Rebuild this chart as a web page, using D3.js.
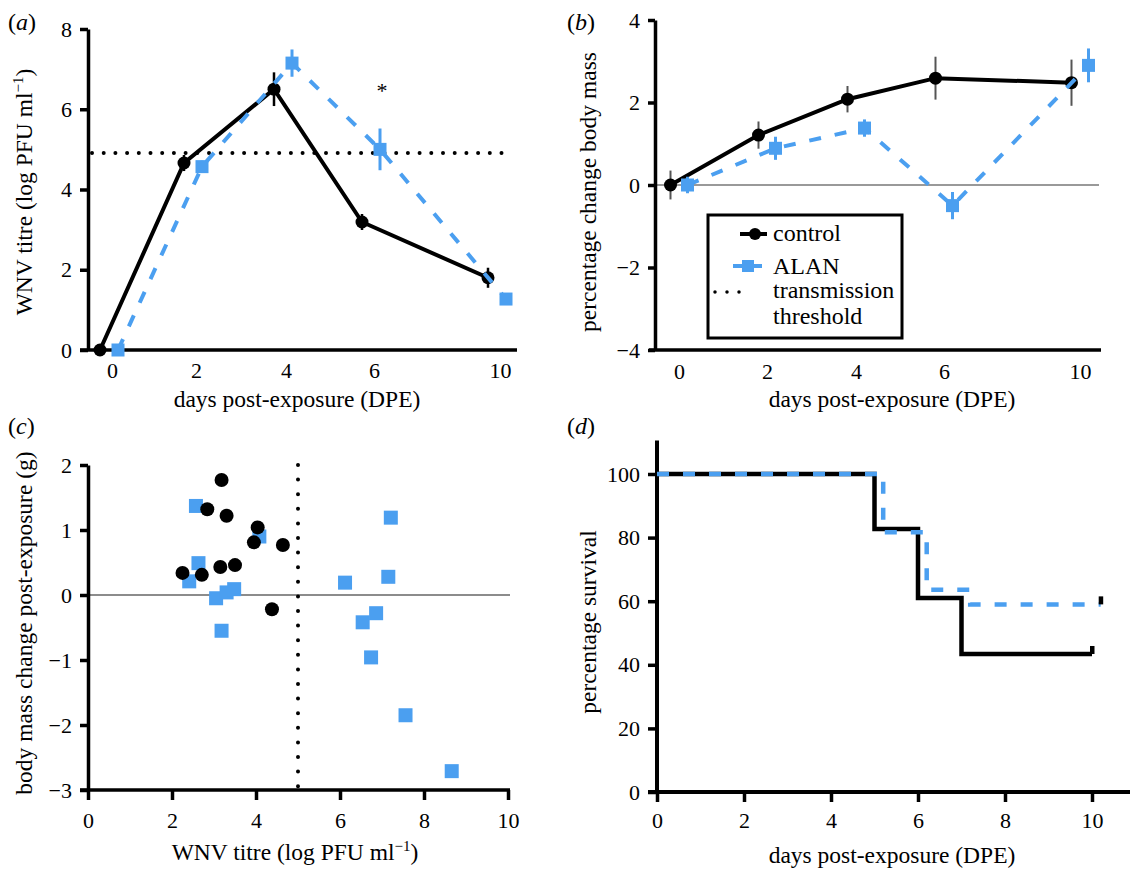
<!DOCTYPE html>
<html>
<head>
<meta charset="utf-8">
<script src="https://cdn.jsdelivr.net/npm/d3@7"></script>
<style>
  html, body { margin: 0; padding: 0; background: #fff; }
  svg { display: block; }
</style>
</head>
<body>
<svg id="chart" width="1130" height="870"></svg>
<script>
// ---------------- DATA ----------------
const days = [0, 2, 4, 6, 10];
const dayLabels = ["0", "2", "4", "6", "10"];

// (a) WNV titre
const titreControl   = [0, 4.66, 6.50, 3.19, 1.80];
const titreControlSE = [0, 0.20, 0.42, 0.20, 0.25];
const titreALAN      = [0, 4.57, 7.15, 5.00, 1.27];
const titreALANSE    = [0, 0.15, 0.34, 0.52, 0.08];
const transmissionThreshold = 4.91;
const titreTicks = [0, 2, 4, 6, 8];

// (b) percentage change body mass
const massPctControl   = [0, 1.21, 2.08, 2.59, 2.48];
const massPctControlSE = [0.35, 0.33, 0.32, 0.52, 0.56];
const massPctALAN      = [0, 0.89, 1.38, -0.50, 2.90];
const massPctALANSE    = [0.20, 0.28, 0.21, 0.33, 0.41];
const massPctTicks = [-4, -2, 0, 2, 4];

// (c) body mass change vs titre
const scatterControlTitre = [3.18, 2.84, 3.30, 4.04, 3.95, 4.64, 2.25, 2.71, 3.15, 3.50, 4.38];
const scatterControlMass  = [1.77, 1.32, 1.22, 1.04, 0.81, 0.77, 0.34, 0.31, 0.43, 0.46, -0.22];
const scatterALANTitre = [2.57, 2.63, 2.41, 3.05, 3.30, 3.48, 3.18, 4.08, 6.12, 7.21, 7.15, 6.54, 6.86, 6.74, 7.56, 8.66];
const scatterALANMass  = [1.37, 0.49, 0.21, -0.05, 0.04, 0.09, -0.55, 0.90, 0.19, 1.19, 0.28, -0.42, -0.28, -0.96, -1.85, -2.71];
const massGTicks = [-3, -2, -1, 0, 1, 2];
const titreXTicks = [0, 2, 4, 6, 8, 10];

// (d) survival
const survTimeControl = [0, 5, 6, 7, 10];
const survControl     = [100, 82.7, 61, 43.4, 43.4];
const survTimeALAN    = [0, 5.2, 6.2, 7.2, 10.2];
const survALAN        = [100, 81.7, 63.6, 59, 59];
const survTicks = [0, 20, 40, 60, 80, 100];
const dayTicks = [0, 2, 4, 6, 8, 10];

// ---------------- STYLE ----------------
const FONT = "'Liberation Serif', 'Times New Roman', Times, serif";
const BLUE = "#4b9ff0";
const BLACK = "#000";
const TICK_FS = 22;
const TITLE_FS = 23.5;
const DASH = "12 14";
const intFmt = d3.format("d");

const svg = d3.select("#chart");

function styleAxis(g) {
  g.selectAll("text").attr("font-family", FONT).attr("font-size", TICK_FS).attr("fill", BLACK);
  g.selectAll("line").attr("stroke", BLACK).attr("stroke-width", 3.5);
  g.select(".domain").attr("stroke", BLACK).attr("stroke-width", 3.5);
  g.attr("font-family", null).attr("font-size", null);
}

function addText(x, y, txt, opts = {}) {
  const t = svg.append("text")
    .attr("x", x).attr("y", y)
    .attr("font-family", FONT)
    .attr("font-size", opts.fs || TITLE_FS)
    .attr("fill", BLACK)
    .attr("text-anchor", opts.anchor || "middle");
  if (opts.rotate) t.attr("transform", `rotate(-90 ${x} ${y})`);
  if (opts.italic) t.attr("font-style", "italic");
  t.text(txt);
  return t;
}

function panelLabel(x, y, letter) {
  const t = svg.append("text").attr("x", x).attr("y", y)
    .attr("font-family", FONT).attr("font-size", 24).attr("fill", BLACK);
  t.append("tspan").text("(");
  t.append("tspan").attr("font-style", "italic").text(letter);
  t.append("tspan").text(")");
}

function titreLabel(x, y, rotate) {
  const t = svg.append("text").attr("x", x).attr("y", y)
    .attr("font-family", FONT).attr("font-size", TITLE_FS).attr("fill", BLACK)
    .attr("text-anchor", "middle");
  if (rotate) t.attr("transform", `rotate(-90 ${x} ${y})`);
  t.append("tspan").text("WNV titre (log PFU ml");
  t.append("tspan").attr("font-size", 15).attr("dy", -9).text("\u22121");
  t.append("tspan").attr("dy", 9).text(")");
}

function squares(g, data, size, color) {
  g.selectAll(null).data(data).enter().append("rect")
    .attr("x", d => d[0] - size / 2).attr("y", d => d[1] - size / 2)
    .attr("width", size).attr("height", size).attr("fill", color);
}
function circles(g, data, r, color) {
  g.selectAll(null).data(data).enter().append("circle")
    .attr("cx", d => d[0]).attr("cy", d => d[1]).attr("r", r).attr("fill", color);
}

// ================= PANEL A =================
(function () {
  const x = d3.scaleLinear().domain(days).range([112, 196, 286, 374, 500]);
  const y = d3.scaleLinear().domain([0, 8]).range([350, 29]);
  const dC = -12, dA = 6;
  const g = svg.append("g");

  // threshold
  g.append("line").attr("x1", 92).attr("x2", 512)
    .attr("y1", y(transmissionThreshold)).attr("y2", y(transmissionThreshold))
    .attr("stroke", BLACK).attr("stroke-width", 4).attr("stroke-linecap", "round")
    .attr("stroke-dasharray", "0 11.7");

  // axes
  const ya = g.append("g").attr("transform", "translate(88,0)")
    .call(d3.axisLeft(y).tickValues(titreTicks).tickFormat(intFmt).tickSize(8).tickSizeOuter(0).tickPadding(8));
  styleAxis(ya);
  const xa = g.append("g").attr("transform", "translate(0,350)")
    .call(d3.axisBottom(x).tickValues(days).tickFormat((d, i) => dayLabels[i]).tickSize(0).tickPadding(12));
  styleAxis(xa);
  xa.select(".domain").remove();
  g.append("line").attr("x1", 80).attr("x2", 517).attr("y1", 350).attr("y2", 350)
    .attr("stroke", BLACK).attr("stroke-width", 3.5);

  const line = d3.line();
  // control
  const cPts = days.map((d, i) => [x(d) + dC, y(titreControl[i])]);
  g.append("path").attr("d", line(cPts)).attr("fill", "none").attr("stroke", BLACK).attr("stroke-width", 4);
  g.selectAll(null).data(days).enter().append("line")
    .attr("x1", (d) => x(d) + dC).attr("x2", (d) => x(d) + dC)
    .attr("y1", (d, i) => y(titreControl[i] - titreControlSE[i]))
    .attr("y2", (d, i) => y(titreControl[i] + titreControlSE[i]))
    .attr("stroke", BLACK).attr("stroke-width", 2.5);
  circles(g, cPts, 6.5, BLACK);
  // ALAN
  const aPts = days.map((d, i) => [x(d) + dA, y(titreALAN[i])]);
  g.append("path").attr("d", line(aPts)).attr("fill", "none").attr("stroke", BLUE)
    .attr("stroke-width", 4).attr("stroke-dasharray", DASH);
  g.selectAll(null).data(days).enter().append("line")
    .attr("x1", (d) => x(d) + dA).attr("x2", (d) => x(d) + dA)
    .attr("y1", (d, i) => y(titreALAN[i] - titreALANSE[i]))
    .attr("y2", (d, i) => y(titreALAN[i] + titreALANSE[i]))
    .attr("stroke", BLUE).attr("stroke-width", 3);
  squares(g, aPts, 13, BLUE);

  // significance marker
  addText(x(6) + dA + 2, y(6.5) + 9, "*", { fs: 22 });

  titreLabel(32, 192, true);
  addText(297, 407, "days post-exposure (DPE)");
  panelLabel(8, 30, "a");
})();

// ================= PANEL B =================
(function () {
  const x = d3.scaleLinear().domain(days).range([679, 767, 856, 944, 1080]);
  const y = d3.scaleLinear().domain([-4, 4]).range([350, 20]);
  const dC = -8.5, dA = 8.5;
  const g = svg.append("g");

  g.append("line").attr("x1", 655).attr("x2", 1099).attr("y1", y(0)).attr("y2", y(0))
    .attr("stroke", "#777").attr("stroke-width", 1.5);

  const ya = g.append("g").attr("transform", "translate(655,0)")
    .call(d3.axisLeft(y).tickValues(massPctTicks).tickFormat(intFmt).tickSize(7).tickSizeOuter(0).tickPadding(8));
  styleAxis(ya);
  const xa = g.append("g").attr("transform", "translate(0,350)")
    .call(d3.axisBottom(x).tickValues(days).tickFormat((d, i) => dayLabels[i]).tickSize(0).tickPadding(13));
  styleAxis(xa);
  xa.select(".domain").remove();
  g.append("line").attr("x1", 649).attr("x2", 1101).attr("y1", 350).attr("y2", 350)
    .attr("stroke", BLACK).attr("stroke-width", 3.5);

  const line = d3.line();
  const cPts = days.map((d, i) => [x(d) + dC, y(massPctControl[i])]);
  g.append("path").attr("d", line(cPts)).attr("fill", "none").attr("stroke", BLACK).attr("stroke-width", 4);
  g.selectAll(null).data(days).enter().append("line")
    .attr("x1", (d) => x(d) + dC).attr("x2", (d) => x(d) + dC)
    .attr("y1", (d, i) => y(massPctControl[i] - massPctControlSE[i]))
    .attr("y2", (d, i) => y(massPctControl[i] + massPctControlSE[i]))
    .attr("stroke", "#555").attr("stroke-width", 2);
  circles(g, cPts, 6.5, BLACK);

  const aPts = days.map((d, i) => [x(d) + dA, y(massPctALAN[i])]);
  g.append("path").attr("d", line(aPts)).attr("fill", "none").attr("stroke", BLUE)
    .attr("stroke-width", 4).attr("stroke-dasharray", DASH);
  g.selectAll(null).data(days).enter().append("line")
    .attr("x1", (d) => x(d) + dA).attr("x2", (d) => x(d) + dA)
    .attr("y1", (d, i) => y(massPctALAN[i] - massPctALANSE[i]))
    .attr("y2", (d, i) => y(massPctALAN[i] + massPctALANSE[i]))
    .attr("stroke", BLUE).attr("stroke-width", 3);
  squares(g, aPts, 13, BLUE);

  // legend
  const lg = svg.append("g");
  lg.append("rect").attr("x", 708).attr("y", 215).attr("width", 194).attr("height", 123)
    .attr("fill", "#fff").attr("stroke", BLACK).attr("stroke-width", 3);
  lg.append("line").attr("x1", 740).attr("x2", 767).attr("y1", 234).attr("y2", 234)
    .attr("stroke", BLACK).attr("stroke-width", 4);
  lg.append("circle").attr("cx", 755).attr("cy", 234).attr("r", 6).attr("fill", BLACK);
  lg.append("line").attr("x1", 733).attr("x2", 762).attr("y1", 266).attr("y2", 266)
    .attr("stroke", BLUE).attr("stroke-width", 4);
  lg.append("rect").attr("x", 742).attr("y", 260).attr("width", 12).attr("height", 12).attr("fill", BLUE);
  lg.append("line").attr("x1", 715).attr("x2", 740).attr("y1", 292).attr("y2", 292)
    .attr("stroke", BLACK).attr("stroke-width", 3.5).attr("stroke-linecap", "round")
    .attr("stroke-dasharray", "0 12");
  addText(773, 241, "control", { fs: 24, anchor: "start" });
  addText(773, 274, "ALAN", { fs: 24, anchor: "start" });
  addText(773, 298, "transmission", { fs: 24, anchor: "start" });
  addText(773, 324, "threshold", { fs: 24, anchor: "start" });

  addText(596, 192, "percentage change body mass", { rotate: true });
  addText(892, 407, "days post-exposure (DPE)");
  panelLabel(567, 30, "b");
})();

// ================= PANEL C =================
(function () {
  const x = d3.scaleLinear().domain([0, 10]).range([88, 508]);
  const y = d3.scaleLinear().domain([-3, 2]).range([790, 465]);
  const g = svg.append("g");

  g.append("line").attr("x1", 88).attr("x2", 510).attr("y1", y(0)).attr("y2", y(0))
    .attr("stroke", "#666").attr("stroke-width", 1.5);
  g.append("line").attr("x1", x(5)).attr("x2", x(5)).attr("y1", y(2)).attr("y2", y(-3))
    .attr("stroke", BLACK).attr("stroke-width", 4).attr("stroke-linecap", "round")
    .attr("stroke-dasharray", "0 14.6");

  const ya = g.append("g").attr("transform", "translate(88,0)")
    .call(d3.axisLeft(y).tickValues(massGTicks).tickFormat(intFmt).tickSize(8).tickSizeOuter(0).tickPadding(8));
  styleAxis(ya);
  const xa = g.append("g").attr("transform", "translate(0,790)")
    .call(d3.axisBottom(x).tickValues(titreXTicks).tickFormat(intFmt).tickSize(10).tickSizeOuter(0).tickPadding(12));
  styleAxis(xa);
  xa.select(".domain").remove();
  g.append("line").attr("x1", 80).attr("x2", 510).attr("y1", 790).attr("y2", 790)
    .attr("stroke", BLACK).attr("stroke-width", 3.5);

  squares(g, scatterALANTitre.map((v, i) => [x(v), y(scatterALANMass[i])]), 14, BLUE);
  circles(g, scatterControlTitre.map((v, i) => [x(v), y(scatterControlMass[i])]), 7, BLACK);

  addText(32, 623, "body mass change post-exposure (g)", { rotate: true });
  titreLabel(295, 860, false);
  panelLabel(8, 434, "c");
})();

// ================= PANEL D =================
(function () {
  const x = d3.scaleLinear().domain([0, 10]).range([657, 1092]);
  const y = d3.scaleLinear().domain([0, 100]).range([792, 474]);
  const g = svg.append("g");

  const ya = g.append("g").attr("transform", "translate(657,0)")
    .call(d3.axisLeft(y).tickValues(survTicks).tickFormat(intFmt).tickSize(9).tickSizeOuter(0).tickPadding(8));
  styleAxis(ya);
  ya.select(".domain").remove();
  g.append("line").attr("x1", 657).attr("x2", 657).attr("y1", y(110.5)).attr("y2", 792)
    .attr("stroke", BLACK).attr("stroke-width", 4);
  const xa = g.append("g").attr("transform", "translate(0,792)")
    .call(d3.axisBottom(x).tickValues(dayTicks).tickFormat(intFmt).tickSize(10).tickSizeOuter(0).tickPadding(10));
  styleAxis(xa);
  xa.select(".domain").remove();
  g.append("line").attr("x1", 648).attr("x2", 1130).attr("y1", 792).attr("y2", 792)
    .attr("stroke", BLACK).attr("stroke-width", 4);

  const step = d3.line().curve(d3.curveStepAfter);
  const cPts = survTimeControl.map((t, i) => [x(t), y(survControl[i])]);
  g.append("path").attr("d", step(cPts)).attr("fill", "none").attr("stroke", BLACK).attr("stroke-width", 4.5);
  const aPts = survTimeALAN.map((t, i) => [x(t), y(survALAN[i])]);
  g.append("path").attr("d", step(aPts)).attr("fill", "none").attr("stroke", BLUE)
    .attr("stroke-width", 4.5).attr("stroke-dasharray", DASH);
  // censor marks
  [cPts[cPts.length - 1], aPts[aPts.length - 1]].forEach(p => {
    g.append("rect").attr("x", p[0] - 2).attr("y", p[1] - 8).attr("width", 4.5).attr("height", 8)
      .attr("fill", BLACK);
  });

  addText(596, 622, "percentage survival", { rotate: true });
  addText(892, 863, "days post-exposure (DPE)");
  panelLabel(567, 434, "d");
})();
</script>
</body>
</html>
